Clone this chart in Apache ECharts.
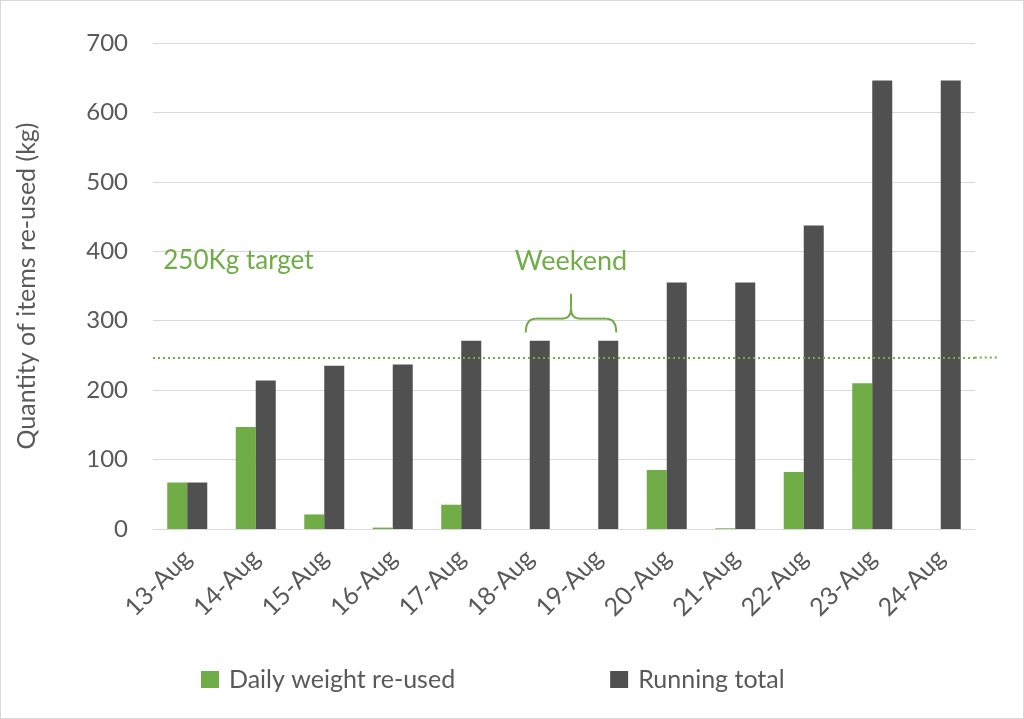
<!DOCTYPE html>
<html><head><meta charset="utf-8">
<script src="https://cdn.jsdelivr.net/npm/echarts@6/dist/echarts.min.js"></script>
<style>html,body{margin:0;padding:0;background:#fff}#c{width:1024px;height:719px;box-sizing:border-box;border:1px solid #d9d9d9}</style>
</head><body><div id="c"></div>
<script>
const categories = ['13-Aug','14-Aug','15-Aug','16-Aug','17-Aug','18-Aug','19-Aug','20-Aug','21-Aug','22-Aug','23-Aug','24-Aug'];
const dailyWeight = [67, 147, 21, 2, 35, 0, 0, 85, 1, 82, 210, 0];
const runningTotal = [67, 214, 235, 237, 271, 271, 271, 355, 355, 437, 646, 646];
const targetValue = 247;
const yTicks = [0, 700, 100];
const FONT = 'Lato, "Open Sans", sans-serif';
const GREEN = '#70ad47', GREY = '#505050', TXT = '#595959';

const chart = echarts.init(document.getElementById('c'));
chart.setOption({
  animation: false,
  textStyle: { fontFamily: FONT },
  grid: { left: 152, right: 48, top: 42, bottom: 189 },
  legend: {
    left: 195, top: 661, itemWidth: 18, itemHeight: 17, itemGap: 155, icon: 'rect',
    textStyle: { fontSize: 25, color: TXT, fontFamily: FONT, padding: [0, 0, 0, 5] },
    data: ['Daily weight re-used', 'Running total']
  },
  xAxis: {
    type: 'category', data: categories,
    axisLine: { lineStyle: { color: '#d9d9d9', width: 1 } },
    axisTick: { show: false },
    axisLabel: { rotate: 45, fontSize: 25, color: TXT, margin: 25, fontFamily: FONT }
  },
  yAxis: {
    type: 'value', min: yTicks[0], max: yTicks[1], interval: yTicks[2],
    name: 'Quantity of items re-used (kg)', nameLocation: 'middle', nameGap: 114,
    nameTextStyle: { fontSize: 25, color: TXT, fontFamily: FONT },
    axisLine: { show: false }, axisTick: { show: false },
    axisLabel: { fontSize: 24, color: TXT, margin: 25, fontFamily: FONT },
    splitLine: { lineStyle: { color: '#d9d9d9', width: 1 } }
  },
  series: [
    { name: 'Daily weight re-used', type: 'bar', data: dailyWeight, barWidth: 20, barGap: '0%',
      itemStyle: { color: GREEN },
      markLine: { silent: true, symbol: 'none', label: { show: false },
        lineStyle: { color: GREEN, type: [2, 3], width: 2 },
        data: [{ yAxis: targetValue }] } },
    { name: 'Running total', type: 'bar', data: runningTotal, barWidth: 20, barGap: '0%',
      itemStyle: { color: GREY } }
  ]
});

function annotate() {
  const x5 = chart.convertToPixel({ xAxisIndex: 0 }, categories[5]);
  const x6 = chart.convertToPixel({ xAxisIndex: 0 }, categories[6]);
  const left = x5 - 4, right = x6 + 18, mid = (left + right) / 2;
  const yLine = chart.convertToPixel({ yAxisIndex: 0 }, 303);
  const yTip = chart.convertToPixel({ yAxisIndex: 0 }, 339);
  const yEnd = chart.convertToPixel({ yAxisIndex: 0 }, 283);
  const yT = chart.convertToPixel({ yAxisIndex: 0 }, targetValue);
  const yLbl = chart.convertToPixel({ yAxisIndex: 0 }, 386);
  const xGridL = chart.convertToPixel({ xAxisIndex: 0 }, categories[0]) - 34;
  const xGridR = chart.convertToPixel({ xAxisIndex: 0 }, categories[11]) + 34;
  const st = { stroke: GREEN, lineWidth: 2, fill: null };
  const r = 10;
  chart.setOption({
    graphic: [
      { type: 'bezierCurve', shape: { x1: left, y1: yEnd, cpx1: left, cpy1: yLine, x2: left + r, y2: yLine }, style: st },
      { type: 'line', shape: { x1: left + r, y1: yLine, x2: mid - r, y2: yLine }, style: st },
      { type: 'bezierCurve', shape: { x1: mid - r, y1: yLine, cpx1: mid, cpy1: yLine, x2: mid, y2: yLine - r }, style: st },
      { type: 'line', shape: { x1: mid, y1: yLine - r, x2: mid, y2: yTip }, style: st },
      { type: 'bezierCurve', shape: { x1: mid, y1: yLine - r, cpx1: mid, cpy1: yLine, x2: mid + r, y2: yLine }, style: st },
      { type: 'line', shape: { x1: mid + r, y1: yLine, x2: right - r, y2: yLine }, style: st },
      { type: 'bezierCurve', shape: { x1: right - r, y1: yLine, cpx1: right, cpy1: yLine, x2: right, y2: yEnd }, style: st },
      { type: 'text', x: mid, y: yLbl, style: { text: 'Weekend', fill: GREEN, font: '27px ' + FONT, textAlign: 'center', textVerticalAlign: 'middle' } },
      { type: 'text', x: xGridL + 10, y: yLbl, style: { text: '250Kg target', fill: GREEN, font: '26px ' + FONT, textAlign: 'left', textVerticalAlign: 'middle' } },
      { type: 'line', shape: { x1: xGridR, y1: yT, x2: xGridR + 23, y2: yT }, style: { stroke: GREEN, lineWidth: 2, lineDash: [2, 3] } }
    ]
  });
}
annotate();
</script></body></html>
